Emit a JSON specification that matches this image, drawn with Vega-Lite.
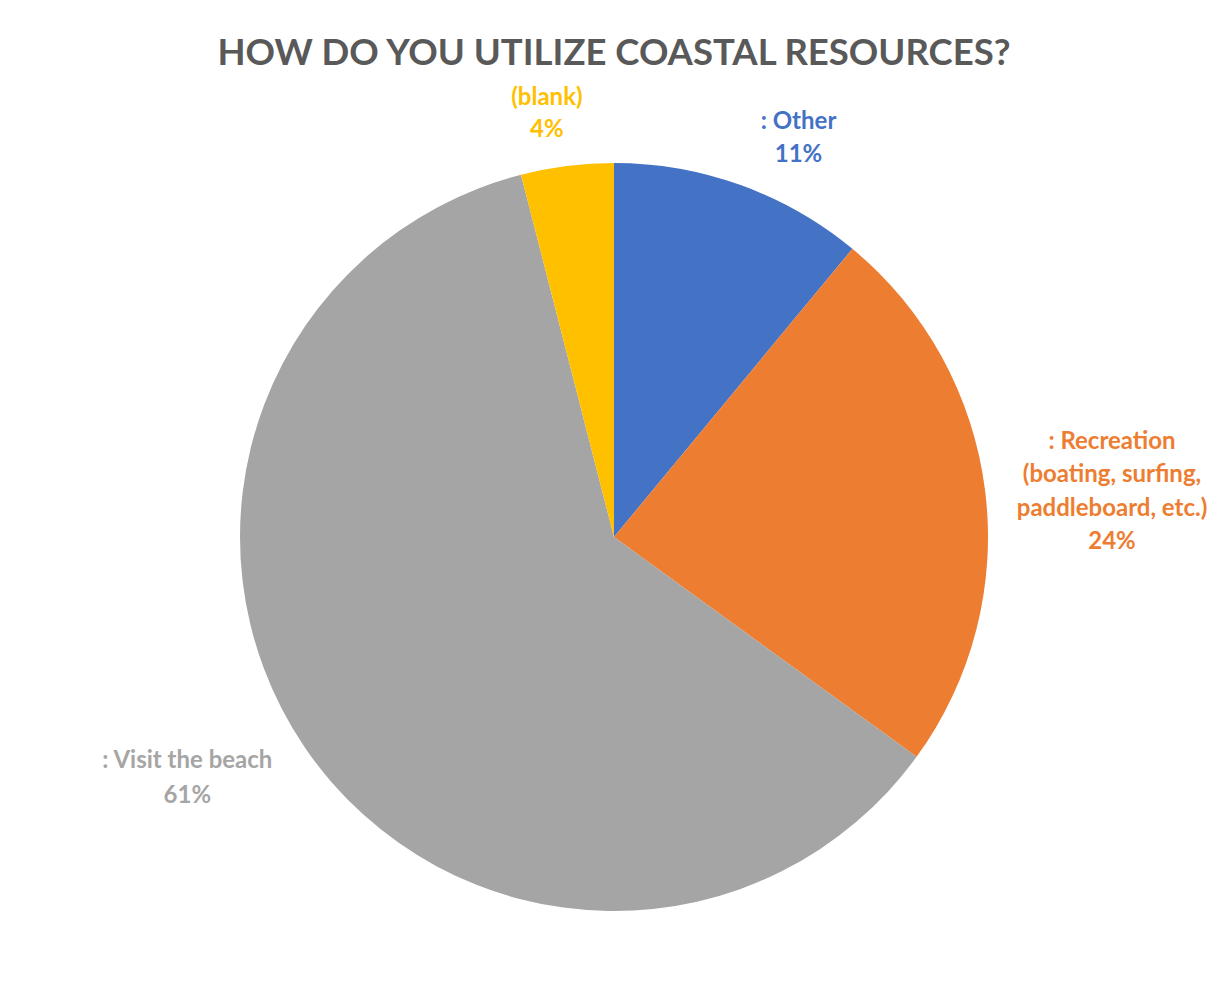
{
  "$schema": "https://vega.github.io/schema/vega-lite/v6.json",
  "autosize": {"type": "none"},
  "width": 1228,
  "height": 922,
  "padding": {"top": 76, "left": 0, "right": 0, "bottom": 0},
  "background": "white",
  "title": {
    "text": "HOW DO YOU UTILIZE COASTAL RESOURCES?",
    "font": "Lato",
    "fontSize": 36.5,
    "fontWeight": "bold",
    "color": "#595959",
    "anchor": "middle",
    "frame": "group",
    "baseline": "alphabetic",
    "offset": 13,
    "dy": 88
  },
  "config": {"view": {"stroke": null}},
  "data": {
    "values": [
      {"category": ": Other", "pct": 11, "rank": 1, "label": [": Other", "11%"]},
      {"category": ": Recreation (boating, surfing, paddleboard, etc.)", "pct": 24, "rank": 2, "label": [": Recreation", "(boating, surfing,", "paddleboard, etc.)", "24%"]},
      {"category": ": Visit the beach", "pct": 61, "rank": 3, "label": [": Visit the beach", "61%"]},
      {"category": "(blank)", "pct": 4, "rank": 4, "label": ["(blank)", "4%"]}
    ]
  },
  "encoding": {
    "theta": {"field": "pct", "type": "quantitative", "stack": true},
    "order": {"field": "rank", "type": "quantitative"},
    "color": {
      "field": "category",
      "type": "nominal",
      "scale": {
        "domain": [": Other", ": Recreation (boating, surfing, paddleboard, etc.)", ": Visit the beach", "(blank)"],
        "range": ["#4472C4", "#ED7D31", "#A5A5A5", "#FFC000"]
      },
      "legend": null
    }
  },
  "layer": [
    {"mark": {"type": "arc", "outerRadius": 374}},
    {
      "mark": {"type": "text", "font": "Lato", "fontSize": 24, "fontWeight": "bold", "align": "center", "baseline": "middle", "lineHeight": 33, "radius": 454, "thetaOffset": 0.073},
      "encoding": {"text": {"condition": {"test": "datum.rank === 1", "field": "label"}, "value": ""}}
    },
    {
      "mark": {"type": "text", "font": "Lato", "fontSize": 24, "fontWeight": "bold", "align": "center", "baseline": "middle", "lineHeight": 33.3, "radius": 507, "thetaOffset": -0.063},
      "encoding": {"text": {"condition": {"test": "datum.rank === 2", "field": "label"}, "value": ""}}
    },
    {
      "mark": {"type": "text", "font": "Lato", "fontSize": 24, "fontWeight": "bold", "align": "center", "baseline": "middle", "lineHeight": 35, "radius": 482, "thetaOffset": 0.113},
      "encoding": {"text": {"condition": {"test": "datum.rank === 3", "field": "label"}, "value": ""}}
    },
    {
      "mark": {"type": "text", "font": "Lato", "fontSize": 24, "fontWeight": "bold", "align": "center", "baseline": "middle", "lineHeight": 32, "radius": 444, "thetaOffset": -0.026},
      "encoding": {"text": {"condition": {"test": "datum.rank === 4", "field": "label"}, "value": ""}}
    }
  ]
}
